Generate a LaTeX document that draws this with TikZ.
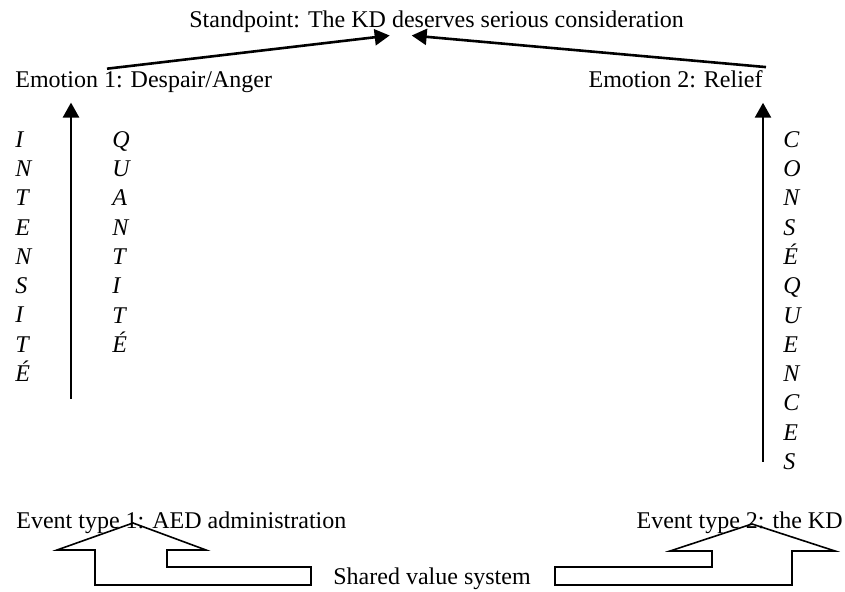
\documentclass[tikz,border=0pt]{standalone}
\usepackage{fontspec}
\setmainfont{Liberation Serif}
\usepackage{tikz}
\usetikzlibrary{arrows.meta, positioning, calc}
\tikzset{
  labeltext/.style={font=\fontsize{12}{13.8}\selectfont, inner sep=0pt},
  columntext/.style={font=\fontsize{12}{14.65}\selectfont\itshape, inner sep=0pt, align=left, anchor=north west},
  arrow/.style={line width=1.3pt, -{Triangle[width=8pt,length=7.5pt]}},
  bentarrow/.style={line width=0.8pt, line join=miter}
}

\begin{document}
\begin{tikzpicture}[x=0.5pt,y=-0.5pt]
        \useasboundingbox (0,0) rectangle (845,592);

        % Standpoint
        \node[labeltext, anchor=base west] (standpoint) at (189,28) {Standpoint: The KD deserves serious consideration};

        % Emociones
        \node[labeltext, anchor=base west] (emotionA) at (15,88) {Emotion 1: Despair/Anger};
        \node[labeltext, anchor=base east] (emotionB) at (763,88) {Emotion 2: Relief};

        % Flechas hacia el standpoint
        \draw[arrow] ($(emotionA.north west)+(92,-3)$) -- ($(standpoint.south)+(-47,2)$);
        \draw[arrow] ($(emotionB.north east)+(3,-3.6)$) -- ($(standpoint.south)+(-25,2)$);

        % Textos verticales
        \node[columntext] (intensite) at (15,131) {I\\N\\T\\E\\N\\S\\I\\T\\É};
        \node[columntext] (quantite) at (112,131) {Q\\U\\A\\N\\T\\I\\T\\É};
        \node[columntext] (consequences) at (783,131) {C\\O\\N\\S\\É\\Q\\U\\E\\N\\C\\E\\S};

        % Flechas verticales
        \coordinate (intensitefoot) at (71,399);
        \coordinate (consequencesfoot) at (763,462);
        \draw[arrow] (intensitefoot) -- ($(intensitefoot |- emotionA.south)+(0,9)$);
        \draw[arrow] (consequencesfoot) -- ($(consequencesfoot |- emotionB.south)+(0,14)$);

        % Eventos
        \node[labeltext, anchor=base west] (eventA) at (16,528) {Event type 1: AED administration};
        \node[labeltext, anchor=base east] (eventB) at (843,528) {Event type 2: the KD};
        \node[labeltext, anchor=base west] (shared) at (333,584) {Shared value system};

        % Flechas dobladas
        \draw[bentarrow] (57,550) -- (133,523) -- (206,550) -- (167,550) -- (167,567) -- (311,567) -- (311,585) -- (95,585) -- (95,550) -- cycle;
        \draw[bentarrow] (670,551) -- (752,524) -- (835,551) -- (792,551) -- (792,585) -- (555,585) -- (555,567) -- (712,567) -- (712,551) -- cycle;
    \end{tikzpicture}
\end{document}
